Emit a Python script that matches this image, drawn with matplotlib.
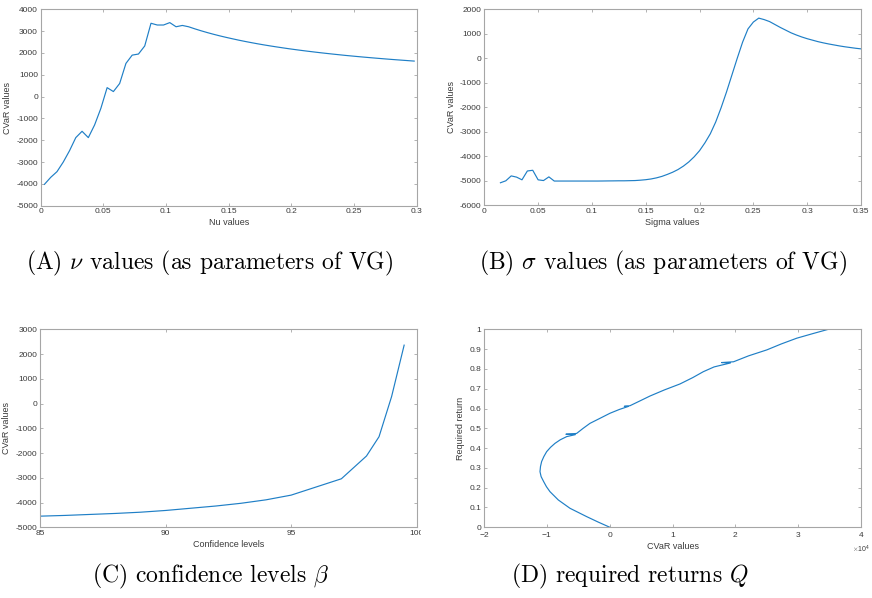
import matplotlib.pyplot as plt
from matplotlib.patches import Rectangle
from matplotlib.ticker import FuncFormatter, ScalarFormatter
import numpy as np

plt.rcParams['axes.unicode_minus'] = False
plt.rcParams['mathtext.fontset'] = 'cm'
plt.rcParams['font.family'] = ['Liberation Sans', 'DejaVu Sans']

# (A) CVaR against the VG nu parameter
nu_vals = [0.003, 0.008, 0.013, 0.018, 0.023, 0.028, 0.033, 0.038, 0.043, 0.048,
           0.053, 0.058, 0.063, 0.068, 0.073, 0.078, 0.083, 0.088, 0.093, 0.098,
           0.103, 0.108, 0.113, 0.118, 0.123, 0.128, 0.133, 0.138, 0.143, 0.148,
           0.153, 0.158, 0.163, 0.168, 0.173, 0.178, 0.183, 0.188, 0.193, 0.198,
           0.203, 0.208, 0.213, 0.218, 0.223, 0.228, 0.233, 0.238, 0.243, 0.248,
           0.253, 0.258, 0.263, 0.268, 0.273, 0.278, 0.283, 0.288, 0.293, 0.298]
cvar_nu = [-4020, -3700, -3440, -3000, -2480, -1880, -1590, -1880, -1300, -540,
           410, 230, 600, 1520, 1900, 1950, 2320, 3360, 3280, 3280,
           3390, 3200, 3260, 3200, 3104, 3015, 2932, 2854, 2781, 2713,
           2649, 2586, 2528, 2473, 2420, 2370, 2323, 2278, 2235, 2193,
           2154, 2116, 2080, 2045, 2011, 1979, 1948, 1918, 1888, 1861,
           1834, 1808, 1783, 1759, 1735, 1712, 1690, 1669, 1648, 1627]

# (B) CVaR against the VG sigma parameter
sigma_vals = [0.015, 0.020, 0.025, 0.030, 0.035, 0.040, 0.045, 0.050, 0.055, 0.060,
              0.065, 0.070, 0.075, 0.080, 0.085, 0.090, 0.095, 0.100, 0.105, 0.110,
              0.115, 0.120, 0.125, 0.130, 0.135, 0.140, 0.145, 0.150, 0.155, 0.160,
              0.165, 0.170, 0.175, 0.180, 0.185, 0.190, 0.195, 0.200, 0.205, 0.210,
              0.215, 0.220, 0.225, 0.230, 0.235, 0.240, 0.245, 0.250, 0.255, 0.260,
              0.265, 0.270, 0.275, 0.280, 0.285, 0.290, 0.295, 0.300, 0.305, 0.310,
              0.315, 0.320, 0.325, 0.330, 0.335, 0.340, 0.345, 0.350]
cvar_sigma = [-5080, -5000, -4800, -4850, -4960, -4600, -4570, -4960, -4990, -4840,
              -5010, -5010, -5010, -5010, -5010, -5010, -5010, -5010, -5010, -5008,
              -5005, -5003, -5000, -5000, -4995, -4990, -4975, -4955, -4925, -4880,
              -4820, -4740, -4650, -4540, -4400, -4230, -4020, -3770, -3450, -3080,
              -2600, -2020, -1380, -690, 0, 660, 1200, 1480, 1640, 1580,
              1500, 1380, 1260, 1150, 1040, 950, 870, 800, 740, 680,
              630, 585, 545, 505, 470, 440, 410, 385]

# (C) CVaR against the confidence level beta
beta_vals = [85, 86, 87, 88, 89, 90, 91, 92, 93, 94, 95, 96, 97, 98, 98.5, 99, 99.5]
cvar_beta = [-4550, -4520, -4480, -4440, -4390, -4320, -4230, -4140, -4030, -3890,
             -3700, -3370, -3040, -2120, -1340, 280, 2360]

# (D) required return against CVaR
cvar_q = [0, -1900, -3700, -6350, -8210, -9540, -10100, -10550, -10950, -11130,
          -11050, -10870, -10520, -10070, -9450, -8740, -7900, -6880,
          -5500, -7000, -5300, -4250, -3170, -1600, 20, 1500,
          2900, 2300, 3200, 4900, 6390, 8700, 11170, 13200, 14890, 16600,
          19200, 17800, 19700, 22100, 25000, 27300, 29760, 32300, 34800]
ret_q = [0.000, 0.027, 0.054, 0.096, 0.138, 0.180, 0.205, 0.231, 0.256, 0.281,
         0.307, 0.332, 0.357, 0.382, 0.404, 0.424, 0.442, 0.458,
         0.468, 0.470, 0.474, 0.500, 0.525, 0.550, 0.576, 0.595,
         0.610, 0.611, 0.614, 0.640, 0.663, 0.694, 0.724, 0.756, 0.786, 0.810,
         0.830, 0.832, 0.836, 0.866, 0.896, 0.926, 0.955, 0.978, 1.000]

line_col = '#1f7fc6'
W, H = 872, 598


def px_axes(fig, left, top, right, bottom):
    """Add axes from pixel edges measured from the top-left corner."""
    return fig.add_axes([left / W, 1 - bottom / H, (right - left) / W,
                         (bottom - top) / H])


def style_axes(ax, xlabel, ylabel):
    for s in ax.spines.values():
        s.set_color('#a6a6a6')
        s.set_linewidth(0.8)
    ax.tick_params(direction='in', length=2.5, width=0.6, color='#a6a6a6',
                   labelsize=6, labelcolor='#3a3a3a', top=True, right=True,
                   pad=2)
    ax.set_xlabel(xlabel, fontsize=6.5, color='#3a3a3a', labelpad=2)
    ax.set_ylabel(ylabel, fontsize=6.5, color='#3a3a3a', labelpad=3)


fmt = FuncFormatter(lambda v, p: '%g' % round(v, 6))

fig = plt.figure(figsize=(W / 100, H / 100), dpi=100)

# panel A
axA = px_axes(fig, 40.7, 9.3, 416.7, 205.7)
axA.plot(nu_vals, cvar_nu, color=line_col, lw=0.85)
axA.set_xlim(0, 0.3)
axA.set_ylim(-5000, 4000)
axA.set_xticks(np.arange(0, 0.301, 0.05))
axA.set_yticks(np.arange(-5000, 4001, 1000))
axA.xaxis.set_major_formatter(fmt)
axA.yaxis.set_major_formatter(fmt)
style_axes(axA, 'Nu values', 'CVaR values')

# panel B
axB = px_axes(fig, 484.3, 9.3, 861, 205.3)
axB.plot(sigma_vals, cvar_sigma, color=line_col, lw=0.85)
axB.set_xlim(0, 0.35)
axB.set_ylim(-6000, 2000)
axB.set_xticks(np.arange(0, 0.351, 0.05))
axB.set_yticks(np.arange(-6000, 2001, 1000))
axB.xaxis.set_major_formatter(fmt)
axB.yaxis.set_major_formatter(fmt)
style_axes(axB, 'Sigma values', 'CVaR values')

# panel C
axC = px_axes(fig, 40, 329.3, 416.7, 527.3)
axC.plot(beta_vals, cvar_beta, color=line_col, lw=0.85)
axC.set_xlim(85, 100)
axC.set_ylim(-5000, 3000)
axC.set_xticks([85, 90, 95, 100])
axC.set_yticks(np.arange(-5000, 3001, 1000))
axC.xaxis.set_major_formatter(fmt)
axC.yaxis.set_major_formatter(fmt)
style_axes(axC, 'Confidence levels', 'CVaR values')

# panel D
axD = px_axes(fig, 484.3, 329.3, 861, 527.3)
axD.plot(cvar_q, ret_q, color=line_col, lw=0.85)
axD.set_xlim(-20000, 40000)
axD.set_ylim(0, 1)
axD.set_xticks(np.arange(-20000, 40001, 10000))
axD.set_yticks(np.arange(0, 1.01, 0.1))
sf = ScalarFormatter(useMathText=True)
sf.set_powerlimits((0, 0))
axD.xaxis.set_major_formatter(sf)
axD.yaxis.set_major_formatter(fmt)
style_axes(axD, 'CVaR values', 'Required return')
off = axD.xaxis.get_offset_text()
off.set_fontsize(5)
off.set_color('#3a3a3a')
off.set_horizontalalignment('center')

# the bottom-left image is cut just after the last tick label
fig.patches.append(Rectangle((421 / W, 1 - 546 / H), 16 / W, 20 / H,
                             transform=fig.transFigure, color='white',
                             zorder=10))

cap = dict(fontsize=17, family='cmr10', ha='center', va='center')
fig.text(210 / W, 1 - 263 / H, r'(A) $\nu$ values (as parameters of VG)', **cap)
fig.text(663 / W, 1 - 263 / H, r'(B) $\sigma$ values (as parameters of VG)', **cap)
fig.text(211 / W, 1 - 576 / H, r'(C) confidence levels $\beta$', **cap)
fig.text(630 / W, 1 - 576 / H, r'(D) required returns $Q$', **cap)

fig.savefig('out.png', dpi=100)
